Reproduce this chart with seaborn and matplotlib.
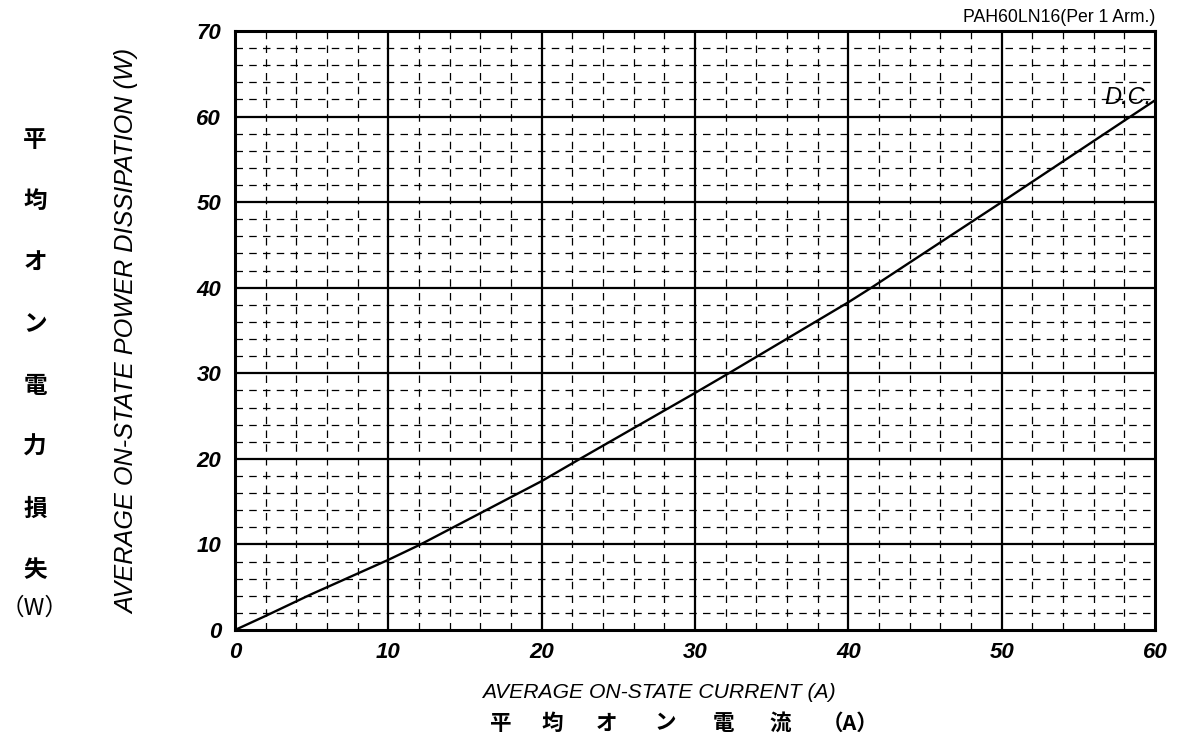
import matplotlib
matplotlib.use("Agg")
import matplotlib.pyplot as plt
import seaborn as sns
import pandas as pd
import numpy as np

# Data (D.C. curve)
current_a = [0, 2, 5, 10, 12.1, 20, 22.5, 30, 32.2, 40, 41.5, 50, 58.4, 60]
power_w = [0, 1.65, 4.2, 8.2, 10.0, 17.4, 20.0, 27.7, 30.0, 38.3, 40.0, 50.0, 60.0, 61.9]

x_ticks = [0, 10, 20, 30, 40, 50, 60]
y_ticks = [0, 10, 20, 30, 40, 50, 60, 70]
x_minor = [v for v in range(0, 61, 2) if v % 10 != 0]
y_minor = [v for v in range(0, 71, 2) if v % 10 != 0]

title_text = "PAH60LN16(Per 1 Arm.)"
curve_label = "D.C."
xlabel_en = "AVERAGE ON-STATE CURRENT (A)"
xlabel_jp_chars = ["平", "均", "オ", "ン", "電", "流", "（A）"]
ylabel_en = "AVERAGE ON-STATE POWER DISSIPATION (W)"
ylabel_jp_chars = ["平", "均", "オ", "ン", "電", "力", "損", "失"]

JP = ["Noto Sans CJK JP", "DejaVu Sans"]

sns.set_theme(style="white")
plt.rcParams['font.family'] = ['Liberation Sans', 'DejaVu Sans']

df = pd.DataFrame({"I": current_a, "P": power_w})

fig = plt.figure(figsize=(11.8, 7.51), dpi=100)
ax = fig.add_axes([235/1180, (751-630)/751, (1155-235)/1180, (630-31)/751])

# minor dashed grid
for v in x_minor:
    ax.axvline(v, color="black", lw=0.9, ls=(0, (6, 5)), zorder=1)
for v in y_minor:
    ax.axhline(v, color="black", lw=0.9, ls=(0, (6, 5)), zorder=1)
# major grid
for v in x_ticks[1:-1]:
    ax.axvline(v, color="black", lw=1.6, zorder=2)
for v in y_ticks[1:-1]:
    ax.axhline(v, color="black", lw=1.6, zorder=2)

sns.lineplot(data=df, x="I", y="P", ax=ax, color="black", lw=1.7, zorder=3)

ax.set_xlim(0, 60)
ax.set_ylim(0, 70)
ax.set_xticks(x_ticks)
ax.set_yticks(y_ticks)
ax.tick_params(length=0)
for lab in ax.get_xticklabels() + ax.get_yticklabels():
    lab.set_fontsize(16)
    lab.set_fontstyle("italic")
    lab.set_fontweight("bold")
    lab.set_color("black")
ax.tick_params(axis="x", pad=9)
ax.tick_params(axis="y", pad=10)
for s in ax.spines.values():
    s.set_linewidth(2.2)
    s.set_color("black")
    s.set_zorder(5)
ax.set_xlabel("")
ax.set_ylabel("")

fig.text(1155/1180, 1 - 17/751, title_text, ha="right", va="center", fontsize=12.7, color="black")
fig.text(1128/1180, 1 - 98/751, curve_label, ha="center", va="center",
         fontsize=17, fontstyle="italic", color="black")

fig.text(659/1180, 1 - 693/751, xlabel_en, ha="center", va="center", fontsize=15.2,
         fontstyle="italic", color="black")
jp_x = [501, 552, 606, 665, 724, 780, 850]
for ch, xx in zip(xlabel_jp_chars, jp_x):
    fig.text(xx/1180, 1 - 723/751, ch, ha="center", va="center", fontsize=15.5,
             family=JP, fontweight="bold", color="black")

fig.text(127/1180, 1 - 331/751, ylabel_en, ha="center", va="center", fontsize=18.2,
         fontstyle="italic", rotation=90, color="black")

jp_y = [140, 201, 262, 324, 386, 447, 509, 570]
for ch, yy in zip(ylabel_jp_chars, jp_y):
    fig.text(35/1180, 1 - yy/751, ch, ha="center", va="center", fontsize=17,
             family=JP, fontweight="bold", color="black")
fig.text(35/1180, 1 - 608/751, "（W）", ha="center", va="center", fontsize=17,
         family=JP, color="black")

fig.savefig("out.png", dpi=100, facecolor="white")
